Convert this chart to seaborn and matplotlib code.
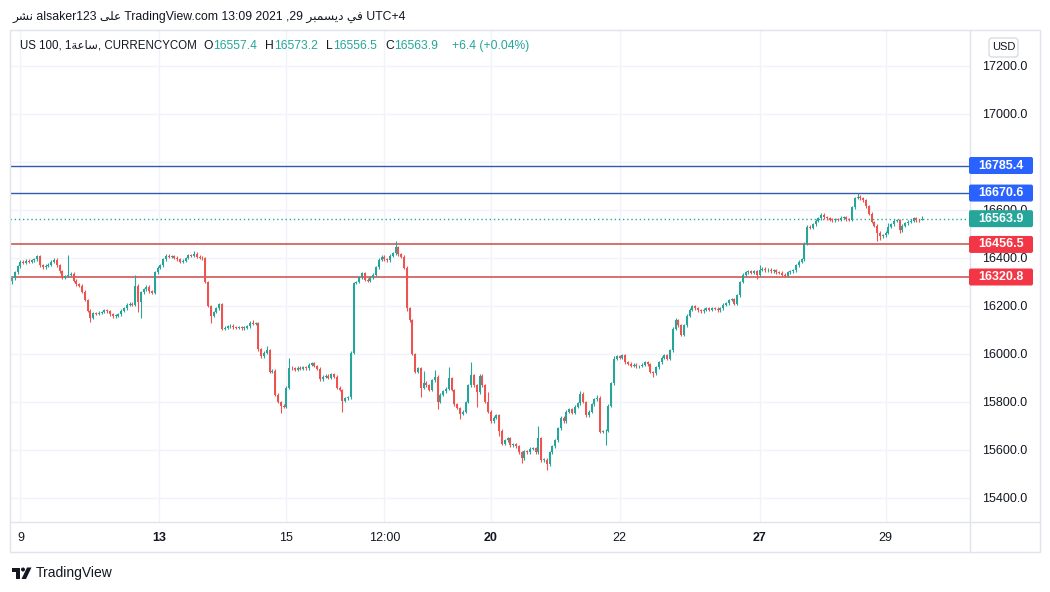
import matplotlib
matplotlib.use("Agg")
import matplotlib.pyplot as plt
import matplotlib.patches as mpatches
from matplotlib.transforms import IdentityTransform
import seaborn as sns

# hourly closes, US 100 (CURRENCYCOM)
closes = [
    16315, 16340, 16365, 16385, 16380, 16388, 16385, 16390, 16395, 16408,
    16370, 16362, 16368, 16372, 16385, 16392, 16370, 16345, 16318, 16325,
    16330, 16335, 16305, 16290, 16285, 16260, 16225, 16180, 16150, 16170,
    16168, 16172, 16175, 16182, 16178, 16165, 16158, 16160, 16165, 16180,
    16190, 16205, 16210, 16205, 16285, 16215, 16258, 16270, 16280, 16262,
    16255, 16340, 16360, 16370, 16395, 16410, 16405, 16408, 16402, 16395,
    16385, 16388, 16400, 16412, 16410, 16418, 16405, 16402, 16398, 16300,
    16200, 16160, 16175, 16190, 16208, 16105, 16110, 16115, 16118, 16112,
    16110, 16112, 16108, 16110, 16115, 16130, 16125, 16128, 16020, 15990,
    16005, 16015, 15925, 15930, 15830, 15800, 15785, 15780, 15860, 15942,
    15940, 15935, 15942, 15938, 15945, 15940, 15955, 15962, 15950, 15938,
    15895, 15905, 15910, 15900, 15915, 15905, 15860, 15850, 15805, 15815,
    15820, 16005, 16296, 16300, 16320, 16337, 16310, 16305, 16320, 16330,
    16362, 16392, 16405, 16395, 16390, 16410, 16420, 16445, 16415, 16405,
    16360, 16190, 16140, 16000, 15925, 15940, 15860, 15880, 15870, 15850,
    15890, 15905, 15800, 15830, 15845, 15855, 15900, 15850, 15790, 15775,
    15750, 15760, 15800, 15870, 15912, 15870, 15840, 15910, 15870, 15800,
    15760, 15720, 15735, 15745, 15680, 15625, 15640, 15650, 15620, 15625,
    15615, 15590, 15565, 15595, 15590, 15605, 15608, 15590, 15650, 15558,
    15560, 15540, 15590, 15615, 15640, 15690, 15735, 15720, 15760, 15770,
    15755, 15780, 15795, 15835, 15800, 15745, 15760, 15790, 15812, 15818,
    15675, 15678, 15680, 15785, 15878, 15980, 15990, 15985, 15995, 15965,
    15960, 15950, 15955, 15948, 15950, 15955, 15965, 15958, 15925, 15920,
    15945, 15965, 15985, 15995, 15980, 16015, 16105, 16140, 16120, 16080,
    16120, 16160, 16185, 16200, 16190, 16182, 16178, 16185, 16190, 16185,
    16190, 16188, 16182, 16190, 16205, 16212, 16225, 16228, 16210, 16245,
    16300, 16330, 16340, 16345, 16338, 16345, 16330, 16350, 16355, 16348,
    16352, 16345, 16348, 16340, 16338, 16330, 16325, 16340, 16345, 16348,
    16370, 16385, 16395, 16460, 16530, 16525, 16540, 16555, 16565, 16580,
    16570, 16565, 16560, 16558, 16562, 16560, 16568, 16570, 16562, 16560,
    16612, 16650, 16655, 16648, 16640, 16615, 16585, 16550, 16535, 16505,
    16490, 16495, 16505, 16530, 16540, 16555, 16558, 16515, 16535, 16545,
    16552, 16555, 16565, 16558, 16557.4, 16563.9,
]
first_open = 16305.0
# visible long wicks (candle index -> price)
wick_highs = {20: 16412, 44: 16330, 65: 16430, 86: 16140, 91: 16035, 99: 15983,
              137: 16470, 147: 15930, 151: 15935, 156: 15945, 164: 15965,
              170: 15840, 188: 15700, 203: 15845, 209: 15830, 215: 15990,
              237: 16150, 267: 16370, 302: 16672, 313: 16545, 325: 16573.2}
wick_lows = {0: 16290, 28: 16133, 45: 16175, 46: 16150, 71: 16130, 96: 15755,
             118: 15760, 141: 16180, 146: 15820, 152: 15770, 160: 15730,
             166: 15780, 174: 15660, 182: 15545, 191: 15517, 212: 15620,
             229: 15905, 266: 16312, 309: 16470, 310: 16475, 317: 16505,
             325: 16556.5}
wick_pad = 6

blue_levels = [16785.4, 16670.6]
red_levels = [16456.5, 16320.8]
last_price = 16563.9

price_ticks = [15400, 15600, 15800, 16000, 16200, 16400, 16600, 16800, 17000, 17200]
# 16800 sits fully under the blue level badge in the screenshot
hidden_ticks = [16800]
time_pos = [3, 52.5, 98, 133, 171, 217, 267, 312]
time_labels = ["9", "13", "15", "12:00", "20", "22", "27", "29"]
time_bold = [False, True, False, False, True, False, True, False]

header_1 = ("\uFEAE\uFEB8\uFEE7 alsaker123 \uFEF0\uFEE0\uFECB TradingView.com 13:09 2021 ,29 "
            "\uFEAE\uFE92\uFEE4\uFEB4\uFEF3\uFEA9 \uFEF2\uFED3 UTC+4")
header_2 = "US 100, 1\uFE94\uFECB\uFE8E\uFEB3, CURRENCYCOM"
ohlc_keys = ["O", "H", "L", "C", ""]
ohlc_vals = ["16557.4", "16573.2", "16556.5", "16563.9", "+6.4 (+0.04%)"]
ohlc_x = [203, 265, 326, 385, 452]

UP, DOWN = "#26a69a", "#ef5350"
BLUE_LINE, BLUE_BOX = "#3059b0", "#2962ff"
RED_LINE, RED_BOX = "#cc4a47", "#f23645"
TXT, GRID, FRAME = "#131722", "#f0f3fa", "#e0e3eb"
W, H = 1050, 592

sns.set_theme(style="white")
FAM = ["Liberation Sans", "DejaVu Sans"]
plt.rcParams["font.family"] = FAM

fig = plt.figure(figsize=(W / 100, H / 100), dpi=100)
fig.patch.set_facecolor("white")
ax = fig.add_axes([10 / W, 1 - 522 / H, 960 / W, 492 / H])
ax.set_facecolor("white")

n = len(closes)
idx = list(range(n))
opens = [first_open] + closes[:-1]
highs = [wick_highs.get(i, max(opens[i], closes[i]) + wick_pad) for i in idx]
lows = [wick_lows.get(i, min(opens[i], closes[i]) - wick_pad) for i in idx]
cols = [UP if closes[i] >= opens[i] else DOWN for i in idx]

ax.vlines(idx, lows, highs, colors=cols, linewidth=0.8, zorder=3)
bottoms = [min(o, c) for o, c in zip(opens, closes)]
heights = [max(abs(c - o), 2.5) for o, c in zip(opens, closes)]
ax.bar(idx, heights, bottom=bottoms, width=0.68, color=cols, linewidth=0, zorder=4)

for p in blue_levels:
    ax.axhline(p, color=BLUE_LINE, lw=1.0, zorder=2)
for p in red_levels:
    ax.axhline(p, color=RED_LINE, lw=1.1, zorder=2)
ax.axhline(last_price, color=UP, lw=1.0, ls=(0, (1, 2)), zorder=2)

ax.set_xlim(-0.714, 342.14)
ax.set_ylim(15300, 17350)
ax.set_yticks(price_ticks)
ax.set_yticklabels(["" if v in hidden_ticks else f"{v:.1f}" for v in price_ticks])
ax.yaxis.tick_right()
ax.tick_params(axis="y", length=0, pad=9, labelsize=9, labelcolor=TXT)
ax.set_xticks(time_pos)
ax.set_xticklabels(time_labels)
for lab, b in zip(ax.get_xticklabels(), time_bold):
    lab.set_fontweight("bold" if b else "normal")
ax.tick_params(axis="x", length=0, pad=7, labelsize=9, labelcolor=TXT)
ax.grid(True, color=GRID, lw=1)
ax.set_axisbelow(True)
for s in ax.spines.values():
    s.set_visible(False)

fig.canvas.draw()
renderer = fig.canvas.get_renderer()


def px(x, y):
    # image pixel (top-left origin) -> display coords
    return x, H - y


def price_y(p):
    return ax.transData.transform((0, p))[1]


# price labels on the scale
for p, c in [(blue_levels[0], BLUE_BOX), (blue_levels[1], BLUE_BOX),
             (last_price, UP), (red_levels[0], RED_BOX), (red_levels[1], RED_BOX)]:
    yd = price_y(p)
    box = mpatches.FancyBboxPatch((969, yd - 8.5), 64, 17,
                                  boxstyle="round,pad=0,rounding_size=2",
                                  transform=IdentityTransform(), fc=c, ec="none", zorder=20)
    fig.add_artist(box)
    fig.text(1001, yd, f"{p:.1f}", transform=IdentityTransform(), color="white",
             fontsize=9, fontweight="bold", ha="center", va="center", zorder=21)

# USD badge
x0, y0 = px(989, 57)
fig.add_artist(mpatches.FancyBboxPatch((x0, y0), 29, 19, boxstyle="round,pad=0,rounding_size=3",
                                       transform=IdentityTransform(), fc="white", ec="#d1d4dc", lw=0.8))
fig.text(*px(1003.5, 47.5), "USD", transform=IdentityTransform(), fontsize=8,
         color=TXT, ha="center", va="center")

# frame
fr = dict(color=FRAME, lw=1, transform=IdentityTransform())
fig.add_artist(mpatches.Rectangle(px(10, 552), 1030, 522, fill=False, ec=FRAME, lw=1,
                                  transform=IdentityTransform()))
fig.add_artist(plt.Line2D([970, 970], [H - 30, H - 552], **fr))
fig.add_artist(plt.Line2D([10, 1040], [H - 522, H - 522], **fr))

# header texts
fig.text(*px(12, 17), header_1, transform=IdentityTransform(), fontsize=8.8,
         color=TXT, ha="left", va="center")
fig.text(*px(20, 46), header_2, transform=IdentityTransform(), fontsize=8.3,
         color=TXT, ha="left", va="center")
for k, v, x in zip(ohlc_keys, ohlc_vals, ohlc_x):
    xx = x
    if k:
        t = fig.text(*px(xx, 46), k, transform=IdentityTransform(), fontsize=8.7,
                     color=TXT, ha="left", va="center")
        xx += t.get_window_extent(renderer).width + 0.5
    fig.text(*px(xx, 46), v, transform=IdentityTransform(), fontsize=8.7,
             color=UP, ha="left", va="center")

# footer logo + name
logo = dict(transform=IdentityTransform(), fc=TXT, ec="none")
fig.add_artist(mpatches.Rectangle(px(12, 571.5), 8, 4, **logo))
fig.add_artist(mpatches.Rectangle(px(16, 579), 4, 11.5, **logo))
fig.add_artist(mpatches.Circle(px(23, 569.5), 2, **logo))
fig.add_artist(mpatches.Polygon([px(21.5, 579), px(27, 567.5), px(31.5, 567.5), px(26, 579)], **logo))
fig.text(*px(36, 573), "TradingView", transform=IdentityTransform(), fontsize=10,
         color=TXT, ha="left", va="center")

fig.savefig("out.png", dpi=100, facecolor="white")
